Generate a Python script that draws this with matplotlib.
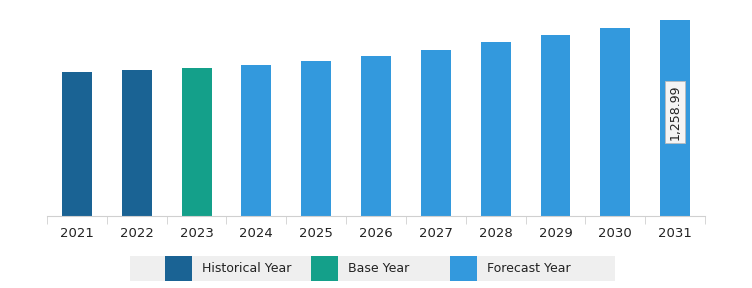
import matplotlib.pyplot as plt
from matplotlib.patches import Rectangle

plt.rcParams["font.family"] = "DejaVu Sans"

years = ["2021", "2022", "2023", "2024", "2025", "2026", "2027", "2028", "2029", "2030", "2031"]
values = [925, 937, 950, 969, 996, 1028, 1066, 1118, 1163, 1208, 1258.99]
kinds = ["Historical Year"] * 2 + ["Base Year"] + ["Forecast Year"] * 8

colors = {"Historical Year": "#1a6394", "Base Year": "#14a08a", "Forecast Year": "#3399dd"}

fig = plt.figure(figsize=(7.52, 2.88), dpi=100)
ax = fig.add_axes([47 / 752, 72 / 288, 658 / 752, 206 / 288])

x = list(range(len(years)))
ax.bar(x, values, width=0.5, color=[colors[k] for k in kinds], zorder=2)
ax.set_xlim(-0.5, len(years) - 0.5)
ax.set_ylim(0, values[-1] * 206 / 196)

for s in ["top", "right", "left"]:
    ax.spines[s].set_visible(False)
ax.spines["bottom"].set_color("#d0d0d0")
ax.set_yticks([])
ax.set_xticks(x)
ax.set_xticklabels(years, fontsize=9.5, color="#222222")
ax.tick_params(axis="x", length=0, pad=8)
ax.set_xticks([i - 0.5 for i in range(len(years) + 1)], minor=True)
ax.tick_params(axis="x", which="minor", length=6, color="#d0d0d0")

ax.text(x[-1], values[-1] * 0.53, f"{values[-1]:,.2f}", rotation=90, ha="center", va="center",
        fontsize=9, color="#222222",
        bbox=dict(boxstyle="square,pad=0.25", fc="#f4f4f4", ec="#bbbbbb", lw=0.6))

# legend
lax = fig.add_axes([130 / 752, 7 / 288, 485 / 752, 25 / 288])
lax.set_xlim(0, 485)
lax.set_ylim(0, 25)
lax.axis("off")
lax.add_patch(Rectangle((0, 0), 485, 25, fc="#efefef", ec="none"))
for (label, px) in zip(["Historical Year", "Base Year", "Forecast Year"], [35, 181, 320]):
    lax.add_patch(Rectangle((px, 0), 27, 25, fc=colors[label], ec="none"))
    lax.text(px + 37, 12.5, label, va="center", ha="left", fontsize=9, color="#222222")

fig.savefig("out.png", dpi=100)
